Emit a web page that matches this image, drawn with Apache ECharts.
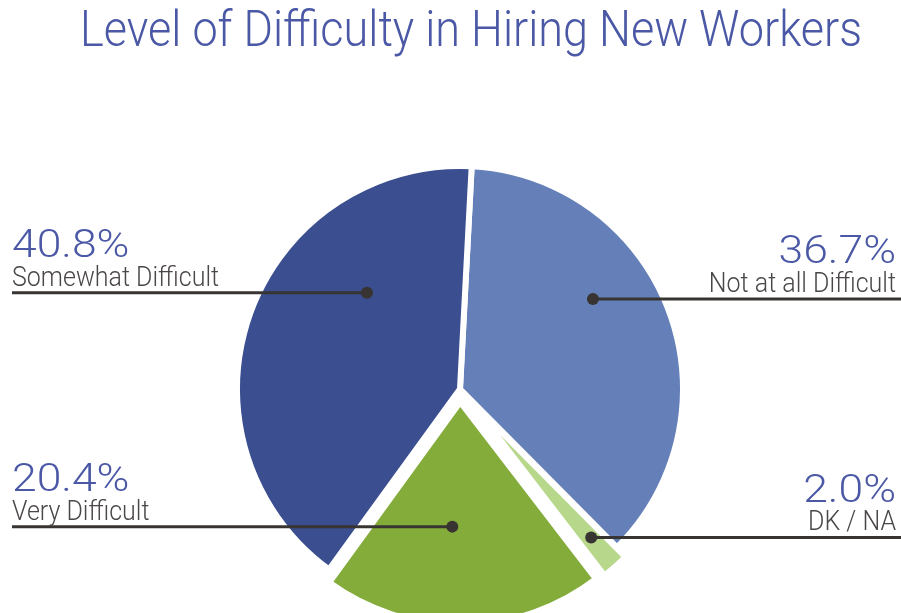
<!DOCTYPE html>
<html>
<head>
<meta charset="utf-8">
<script src="https://cdn.jsdelivr.net/npm/echarts@6/dist/echarts.min.js"></script>
<style>
    html, body { margin: 0; padding: 0; background: #fff; }
    #chart { width: 901px; height: 613px; }
</style>
</head>
<body>
<div id="chart"></div>
<script>
'use strict';

// chart data, clockwise from the top
var categories = ['Not at all Difficult', 'DK / NA', 'Very Difficult', 'Somewhat Difficult'];
var values = [36.7, 2.0, 20.4, 40.8];
var percentLabels = ['36.7%', '2.0%', '20.4%', '40.8%'];
var pulledOut = [false, true, true, false];
var chartTitle = 'Level of Difficulty in Hiring New Workers';

(function (echarts) {

    var Chart = {
        colors: ['#6580b8', '#b7d78b', '#84ac3b', '#3a4e90'],
        textBlue: '#4a58a6',
        lineColor: '#383432',
        pullOffset: 13,

        // where each callout dot sits inside its slice: [fraction along the arc, fraction of radius], side of the text
        callouts: [
            {pos: [0.40, 0.72], side: 'right'},
            {pos: [0.45, 0.83], side: 'right'},
            {pos: [0.56, 0.56], side: 'left'},
            {pos: [0.68, 0.60], side: 'left'}
        ],

        init: function () {
            this.chart = echarts.init(document.getElementById('chart'));
            this.chart.setOption(this.buildOption());
            this.chart.setOption({graphic: this.buildCallouts()});
        },

        buildOption: function () {
            var data = categories.map(function (name, i) {
                return {
                    name: name,
                    value: values[i],
                    selected: pulledOut[i],
                    itemStyle: {color: Chart.colors[i]}
                };
            });

            return {
                animation: false,
                series: [{
                    type: 'pie',
                    center: [460, 389],
                    radius: 223,
                    startAngle: 87,
                    clockwise: true,
                    selectedMode: 'multiple',
                    selectedOffset: this.pullOffset,
                    silent: true,
                    label: {show: false},
                    labelLine: {show: false},
                    itemStyle: {borderColor: '#fff', borderWidth: 6},
                    select: {itemStyle: {borderColor: '#fff', borderWidth: 6}},
                    data: data
                }]
            };
        },

        // title, dots, lines and texts placed from the pie layout that echarts computed
        buildCallouts: function () {
            var seriesData = this.chart.getModel().getSeriesByIndex(0).getData(),
                width = this.chart.getWidth(),
                elements = [];

            // the reference lettering is a bit taller than Roboto, hence the scaling
            elements.push({
                type: 'text',
                silent: true,
                x: 471,
                y: 9,
                scaleY: 1.09,
                style: {
                    text: chartTitle,
                    fontFamily: 'Roboto',
                    fontWeight: 300,
                    fontSize: 45,
                    fill: Chart.textBlue,
                    align: 'center',
                    verticalAlign: 'top'
                }
            });

            categories.forEach(function (name, i) {
                var layout = seriesData.getItemLayout(i),
                    callout = Chart.callouts[i],
                    cx = layout.cx,
                    cy = layout.cy;

                if (pulledOut[i]) {
                    var mid = (layout.startAngle + layout.endAngle) / 2;
                    cx += Math.cos(mid) * Chart.pullOffset;
                    cy += Math.sin(mid) * Chart.pullOffset;
                }

                var angle = layout.startAngle + callout.pos[0] * (layout.endAngle - layout.startAngle),
                    dotX = cx + Math.cos(angle) * layout.r * callout.pos[1],
                    dotY = cy + Math.sin(angle) * layout.r * callout.pos[1],
                    left = callout.side === 'left',
                    edgeX = left ? 12 : width,
                    textX = left ? 12 : width - 5;

                elements.push({
                    type: 'polyline',
                    silent: true,
                    shape: {points: [[edgeX, dotY], [dotX, dotY]]},
                    style: {stroke: Chart.lineColor, lineWidth: 3, fill: null},
                    z: 10
                });
                elements.push({
                    type: 'circle',
                    silent: true,
                    shape: {cx: dotX, cy: dotY, r: 6},
                    style: {fill: Chart.lineColor},
                    z: 11
                });
                elements.push({
                    type: 'text',
                    silent: true,
                    x: textX,
                    y: dotY - 26,
                    scaleX: 1.17,
                    style: {
                        text: percentLabels[i],
                        fontFamily: 'Roboto',
                        fontWeight: 300,
                        fontSize: 38,
                        fill: Chart.textBlue,
                        align: left ? 'left' : 'right',
                        verticalAlign: 'bottom'
                    },
                    z: 10
                });
                elements.push({
                    type: 'text',
                    silent: true,
                    x: textX,
                    y: dotY,
                    scaleY: 1.12,
                    style: {
                        text: name,
                        fontFamily: 'Roboto',
                        fontWeight: 300,
                        fontSize: 25,
                        fill: '#4a4746',
                        align: left ? 'left' : 'right',
                        verticalAlign: 'bottom'
                    },
                    z: 10
                });
            });

            return elements;
        }
    };

    Chart.init();

})(echarts);
</script>
</body>
</html>
